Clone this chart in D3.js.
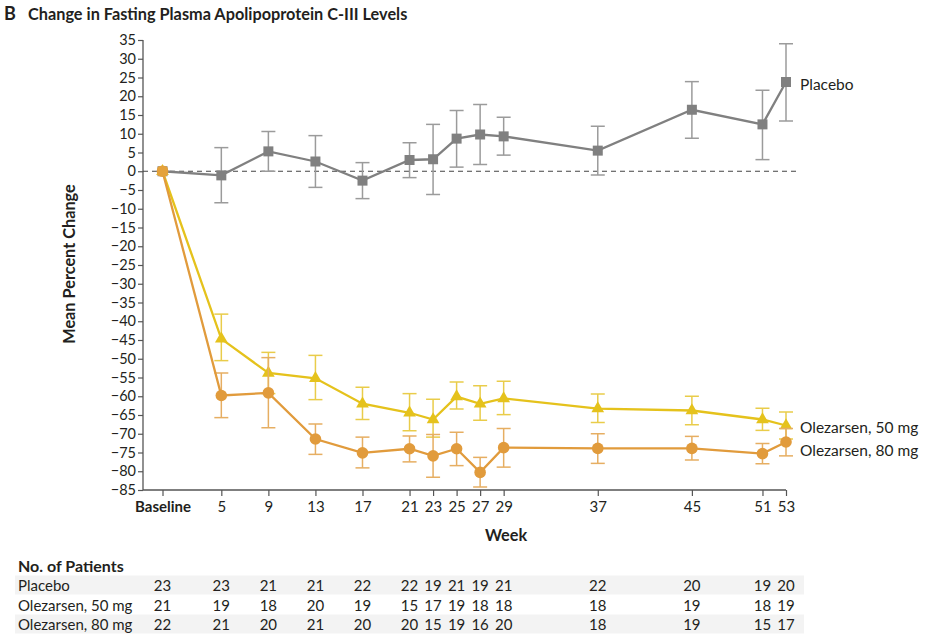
<!DOCTYPE html>
<html>
<head>
<meta charset="utf-8">
<script src="https://cdn.jsdelivr.net/npm/d3@7"></script>
<style>
  body { margin: 0; background: #fff; }
  svg { font-family: Lato, "Open Sans", sans-serif; }
</style>
</head>
<body>
<svg id="chart" width="928" height="635"></svg>
<script>
// Data
const weeks = [0, 5, 9, 13, 17, 21, 23, 25, 27, 29, 37, 45, 51, 53];
const weekLabels = ["Baseline", "5", "9", "13", "17", "21", "23", "25", "27", "29", "37", "45", "51", "53"];
const yTicks = d3.range(-85, 36, 5);

const placeboMean = [0, -1.1, 5.3, 2.6, -2.5, 3.0, 3.2, 8.7, 9.8, 9.3, 5.5, 16.4, 12.5, 23.8];
const placeboHi   = [0, 6.3, 10.6, 9.5, 2.3, 7.6, 12.5, 16.2, 17.8, 14.4, 12.0, 23.9, 21.6, 34.0];
const placeboLo   = [0, -8.4, 0.0, -4.3, -7.3, -1.7, -6.2, 1.1, 1.8, 4.3, -1.0, 8.8, 3.1, 13.4];

const ole50Mean = [0, -44.7, -53.8, -55.2, -62.0, -64.4, -66.2, -60.1, -62.0, -60.6, -63.3, -63.8, -66.2, -67.8];
const ole50Hi   = [0, -38.1, -48.3, -49.1, -57.6, -59.3, -60.8, -56.2, -57.2, -56.0, -59.4, -60.0, -63.2, -64.2];
const ole50Lo   = [0, -50.5, -59.3, -60.9, -66.2, -69.2, -70.9, -63.4, -66.4, -64.9, -67.0, -67.6, -69.1, -71.4];

const ole80Mean = [0, -59.8, -59.1, -71.4, -75.1, -74.0, -75.9, -74.0, -80.3, -73.7, -73.9, -73.9, -75.3, -72.2];
const ole80Hi   = [0, -53.8, -49.7, -67.4, -70.9, -70.6, -70.2, -69.6, -76.3, -68.6, -70.0, -70.7, -72.6, -68.6];
const ole80Lo   = [0, -65.7, -68.4, -75.5, -79.1, -77.5, -81.6, -78.5, -84.2, -78.9, -77.9, -77.0, -78.0, -75.9];

const rowNames = ["Placebo", "Olezarsen, 50 mg", "Olezarsen, 80 mg"];
const placeboN = [23, 23, 21, 21, 22, 22, 19, 21, 19, 21, 22, 20, 19, 20];
const ole50N   = [21, 19, 18, 20, 19, 15, 17, 19, 18, 18, 18, 19, 18, 19];
const ole80N   = [22, 21, 20, 21, 20, 20, 15, 19, 16, 20, 18, 19, 15, 17];

//==========================================
// Scales
//==========================================
const svg = d3.select("#chart");
const x = d3.scaleLinear().domain([0, 53]).range([162.5, 786]);
const y = d3.scaleLinear().domain([-85, 35]).range([490, 40]);
const axisLeft = 143;
const ink = "#231f20";

const series = [
  { name: "Placebo", mean: placeboMean, hi: placeboHi, lo: placeboLo,
    line: "#808080", err: "#9b9b9b", shape: "square", labelY: 85 },
  { name: "Olezarsen, 50 mg", mean: ole50Mean, hi: ole50Hi, lo: ole50Lo,
    line: "#e5c21c", err: "#e9cc4a", shape: "triangle", labelY: 428 },
  { name: "Olezarsen, 80 mg", mean: ole80Mean, hi: ole80Hi, lo: ole80Lo,
    line: "#e19b3c", err: "#e6ae62", shape: "circle", labelY: 451 }
];

// Title
svg.append("text").attr("x", 4).attr("y", 20)
  .style("font-weight", "bold").style("font-size", "18px").style("fill", ink)
  .text("B");
svg.append("text").attr("x", 28).attr("y", 20)
  .style("font-weight", "bold").style("font-size", "16.3px").style("fill", ink)
  .text("Change in Fasting Plasma Apolipoprotein C-III Levels");

// Y axis
const yAxis = svg.append("g")
  .attr("transform", `translate(${axisLeft},0)`)
  .call(d3.axisLeft(y).tickValues(yTicks).tickSize(5).tickPadding(2)
    .tickFormat(d => d < 0 ? "\u2212" + Math.abs(d) : d));
yAxis.select(".domain").attr("d", `M0,${y(35)}V${y(-85)}`).attr("stroke", "#555").attr("stroke-width", 1.3);
yAxis.selectAll(".tick line").attr("stroke", "#555").attr("stroke-width", 1.2);
yAxis.selectAll(".tick text").style("font-size", "14.5px").style("fill", ink)
  .style("font-family", "Lato, sans-serif");

// X axis
const xAxis = svg.append("g")
  .attr("transform", `translate(0,${y(-85)})`)
  .call(d3.axisBottom(x).tickValues(weeks).tickSize(6).tickPadding(5)
    .tickFormat((d, i) => weekLabels[i]));
xAxis.select(".domain").attr("d", `M${axisLeft},0H${x(53)}`).attr("stroke", "#555").attr("stroke-width", 1.3);
xAxis.selectAll(".tick line").attr("stroke", "#555").attr("stroke-width", 1.2);
xAxis.selectAll(".tick text").style("font-size", "15px").style("fill", ink)
  .style("font-family", "Lato, sans-serif")
  .style("font-weight", (d, i) => i === 0 ? "bold" : "normal");

// Axis titles
svg.append("text")
  .attr("transform", `translate(75,${264}) rotate(-90)`)
  .attr("text-anchor", "middle")
  .style("font-weight", "bold").style("font-size", "16.3px").style("fill", ink)
  .text("Mean Percent Change");
svg.append("text").attr("x", 506).attr("y", 541).attr("text-anchor", "middle")
  .style("font-weight", "bold").style("font-size", "16.3px").style("fill", ink)
  .text("Week");

// Zero reference line
svg.append("line")
  .attr("x1", axisLeft).attr("x2", 797)
  .attr("y1", y(0)).attr("y2", y(0))
  .attr("stroke", "#444").attr("stroke-width", 1.1)
  .attr("stroke-dasharray", "5,4");

//==========================================
// Series: error bars, lines, markers
//==========================================
const line = d3.line().x(d => x(d.w)).y(d => y(d.v));

series.forEach(s => {
  const pts = weeks.map((w, i) => ({ w, v: s.mean[i], hi: s.hi[i], lo: s.lo[i] }));
  const g = svg.append("g");

  // Error bars (skip baseline)
  const eb = g.selectAll(".eb").data(pts.slice(1)).enter().append("g");
  eb.append("line")
    .attr("x1", d => x(d.w)).attr("x2", d => x(d.w))
    .attr("y1", d => y(d.hi)).attr("y2", d => y(d.lo))
    .attr("stroke", s.err).attr("stroke-width", 1.5);
  ["hi", "lo"].forEach(k => {
    eb.append("line")
      .attr("x1", d => x(d.w) - 7).attr("x2", d => x(d.w) + 7)
      .attr("y1", d => y(d[k])).attr("y2", d => y(d[k]))
      .attr("stroke", s.err).attr("stroke-width", 1.5);
  });

  g.append("path").datum(pts).attr("d", line)
    .attr("fill", "none").attr("stroke", s.line).attr("stroke-width", 2.3);

  // Markers
  const m = g.selectAll(".m").data(pts).enter();
  if (s.shape === "square") {
    m.append("rect")
      .attr("x", d => x(d.w) - 5).attr("y", d => y(d.v) - 5)
      .attr("width", 10).attr("height", 10)
      .attr("fill", s.line);
  } else if (s.shape === "triangle") {
    m.append("path")
      .attr("d", d3.symbol().type(d3.symbolTriangle).size(70))
      .attr("transform", d => `translate(${x(d.w)},${y(d.v)})`)
      .attr("fill", s.line);
  } else {
    m.append("circle")
      .attr("cx", d => x(d.w)).attr("cy", d => y(d.v)).attr("r", 5.8)
      .attr("fill", s.line);
  }

  svg.append("text").attr("x", 800).attr("y", s.labelY + 5)
    .style("font-size", "15.5px").style("fill", ink)
    .text(s.name);
});

// Baseline marker on top
svg.append("rect")
  .attr("x", x(0) - 5).attr("y", y(0) - 5).attr("width", 10).attr("height", 10)
  .attr("rx", 2).attr("fill", "#e4a23c");

//==========================================
// Number of patients table
//==========================================
svg.append("text").attr("x", 18).attr("y", 572)
  .style("font-weight", "bold").style("font-size", "16px").style("fill", ink)
  .text("No. of Patients");

const rows = [placeboN, ole50N, ole80N];
const rowY = [585, 605, 624];
rows.forEach((vals, r) => {
  if (r !== 1) {
    svg.append("rect").attr("x", 15).attr("y", rowY[r] - 9.5)
      .attr("width", 789).attr("height", 19).attr("fill", "#f3f3f3");
  }
  svg.append("text").attr("x", 18).attr("y", rowY[r] + 5.5)
    .style("font-size", "15px").style("fill", ink)
    .text(rowNames[r]);
  svg.selectAll(null).data(vals).enter().append("text")
    .attr("x", (d, i) => x(weeks[i])).attr("y", rowY[r] + 5.5)
    .attr("text-anchor", "middle")
    .style("font-size", "15px").style("fill", ink)
    .text(d => d);
});
</script>
</body>
</html>
